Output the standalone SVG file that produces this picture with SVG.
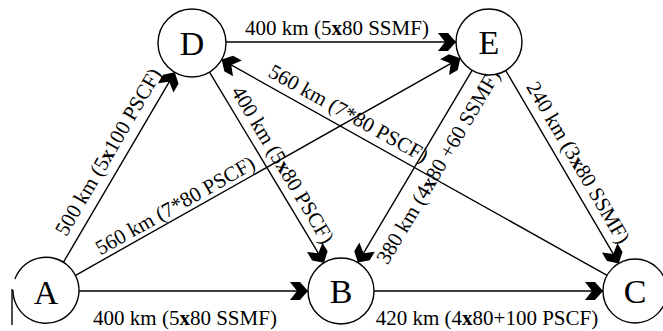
<svg xmlns="http://www.w3.org/2000/svg" width="663" height="331" viewBox="0 0 663 331">
<style>
.n{fill:#fff;stroke:#000;stroke-width:1.4}
.nt{font-family:"Liberation Serif",serif;font-size:34px;text-anchor:middle;fill:#000}
.e{stroke:#000;stroke-width:1.4;fill:none;marker-end:url(#ah)}
.el{stroke:#000;stroke-width:1.4;fill:none}
.lb{font-family:"Liberation Serif",serif;font-size:21px;text-anchor:middle;fill:#000}
.b{font-weight:bold}
</style>
<defs>
<marker id="ah" viewBox="-20 -10 21 20" refX="0" refY="0" markerWidth="21" markerHeight="20" orient="auto" markerUnits="userSpaceOnUse">
<path d="M0,0 L-8,-9 L-18,-9 L-11,0 L-18,9 L-8,9 Z" fill="#000"/>
</marker>
</defs>
<g id="connectors">
<line class="e" x1="62.7" y1="263.5" x2="174.8" y2="72.3"/>
<line class="e" x1="74.7" y1="275.8" x2="460.3" y2="58.2"/>
<line class="e" x1="79" y1="291" x2="308" y2="291"/>
<line class="e" x1="226" y1="42" x2="456" y2="42"/>
<line class="e" x1="209.5" y1="72.1" x2="324" y2="262.7"/>
<line class="e" x1="607.1" y1="275.4" x2="221.7" y2="59.6"/>
<line class="e" x1="472.1" y1="70.4" x2="357.9" y2="262.6"/>
<line class="e" x1="505.7" y1="70.5" x2="618.8" y2="263.4"/>
<line class="e" x1="374" y1="291" x2="603" y2="291"/>
<text class="lb" transform="translate(122,160) rotate(-59.6)" y="-9">500 km (5<tspan class="b">x</tspan>100 PSCF)</text>
<text class="lb" transform="translate(181,216) rotate(-29.4)" y="-5">560 km (7*80 PSCF)</text>
<text class="lb" x="185" y="325">400 km (5<tspan class="b">x</tspan>80 SSMF)</text>
<text class="lb" x="337" y="35">400 km (5<tspan class="b">x</tspan>80 SSMF)</text>
<text class="lb" transform="translate(270,172.5) rotate(59)" y="-8">400 km (5<tspan class="b">x</tspan>80 PSCF)</text>
<text class="lb" transform="translate(341.2,126.5) rotate(29.2)" y="-8">560 km (7*80 PSCF)</text>
<text class="lb" transform="translate(421,156.4) rotate(-59.3)" y="27">380 km (4<tspan class="b">x</tspan>80 +60 SSMF)</text>
<text class="lb" transform="translate(564.5,170.5) rotate(59.6)" y="-9">240 km (3<tspan class="b">x</tspan>80 SSMF)</text>
<text class="lb" x="487" y="325">420 km (4<tspan class="b">x</tspan>80+100 PSCF)</text>
</g>
<g id="node-A">
<path class="n" d="M15,279 A33,33 0 1 1 13,290"/>
<line class="el" x1="12" y1="289" x2="12" y2="325"/>
<text class="nt" x="46" y="304">A</text>
</g>
<g id="node-B">
<circle class="n" cx="341" cy="291" r="33"/>
<text class="nt" x="341" y="303">B</text>
</g>
<g id="node-C">
<circle class="n" cx="635" cy="291" r="32"/>
<text class="nt" x="635" y="303">C</text>
</g>
<g id="node-D">
<circle class="n" cx="192" cy="43" r="34"/>
<text class="nt" x="192" y="55">D</text>
</g>
<g id="node-E">
<circle class="n" cx="489" cy="42" r="33"/>
<text class="nt" x="489" y="54">E</text>
</g>
</svg>
